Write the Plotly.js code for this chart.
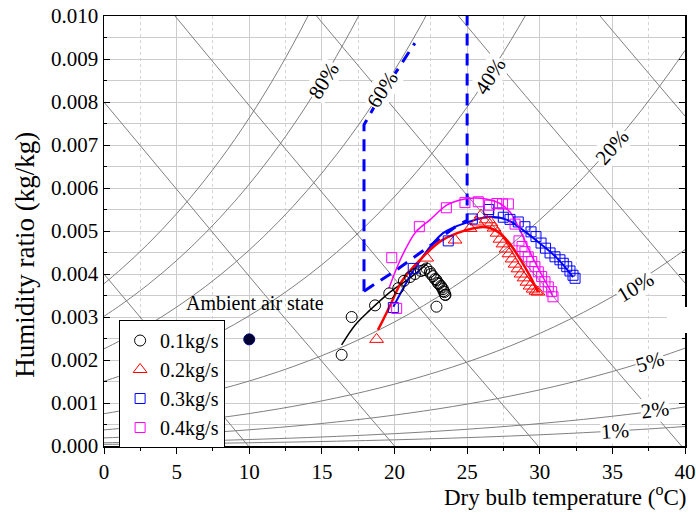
<!DOCTYPE html>
<html>
<head>
<meta charset="utf-8">
<script src="https://cdn.plot.ly/plotly-3.0.1.min.js"></script>
<style>html,body{margin:0;padding:0;background:#fff}#chart{width:696px;height:516px}</style>
</head>
<body>
<div id="chart"></div>
<script>
// ---- Psychrometric reference data ----
// saturation vapour pressure of water (kPa) at 0..40 C (steam tables)
const satTemps = [0,1,2,3,4,5,6,7,8,9,10,11,12,13,14,15,16,17,18,19,20,21,22,23,24,25,26,27,28,29,30,31,32,33,34,35,36,37,38,39,40];
const satPressure = [0.6112,0.6571,0.7060,0.7581,0.8135,0.8725,0.9353,1.0020,1.0729,1.1481,1.2280,1.3128,1.4027,1.4979,1.5988,1.7057,1.8188,1.9383,2.0647,2.1982,2.3392,2.4881,2.6452,2.8109,2.9856,3.1697,3.3637,3.5679,3.7828,4.0089,4.2467,4.4966,4.7592,5.0351,5.3247,5.6286,5.9475,6.2818,6.6324,6.9997,7.3844];
const rhLevels = [1,2,5,10,20,40,60,80,100];
const rhLabels = ['1%','2%','5%','10%','20%','40%','60%','80%'];
const enthalpyLevels = [10,20,30,40,50,60];
const atmPressure = 101.325;

// ---- Measured data ----
const ambientT = [10.0];
const ambientW = [0.00248];

const t01 = [16.36,17.05,18.66,19.64,20.26,20.65,21.07,21.41,21.82,22.03,22.20,22.44,22.51,22.65,22.79,22.89,22.99,23.06,23.20,23.24,23.34,23.37,23.44,23.48,23.51,22.89];
const w01 = [0.00212,0.00300,0.00327,0.00355,0.00367,0.00384,0.00393,0.00400,0.00407,0.00409,0.00413,0.00405,0.00400,0.00395,0.00388,0.00386,0.00379,0.00377,0.00372,0.00369,0.00365,0.00360,0.00358,0.00352,0.00351,0.00324];

const t02 = [18.77,22.22,24.17,25.20,25.68,25.96,26.30,26.64,26.85,27.06,27.26,27.47,27.68,27.88,28.09,28.30,28.50,28.71,28.92,29.12,29.33,29.54,29.74,29.88];
const w02 = [0.00248,0.00437,0.00479,0.00506,0.00521,0.00537,0.00526,0.00519,0.00507,0.00495,0.00481,0.00470,0.00458,0.00447,0.00435,0.00423,0.00412,0.00400,0.00391,0.00381,0.00372,0.00365,0.00360,0.00358];

const t03 = [19.92,21.29,23.70,25.36,26.49,27.15,27.49,27.95,28.52,28.98,29.40,29.74,30.09,30.40,30.71,31.05,31.39,31.62,31.86,32.08,32.29,32.43];
const w03 = [0.00322,0.00413,0.00477,0.00528,0.00550,0.00542,0.00532,0.00527,0.00521,0.00510,0.00498,0.00487,0.00472,0.00460,0.00449,0.00440,0.00433,0.00425,0.00417,0.00407,0.00397,0.00390];

const t04 = [20.15,19.81,21.71,23.57,24.85,25.77,26.54,27.04,27.44,27.84,28.30,28.57,28.78,28.98,29.21,29.45,29.67,29.90,30.13,30.36,30.59,30.82,30.91];
const w04 = [0.00320,0.00438,0.00510,0.00554,0.00566,0.00568,0.00560,0.00564,0.00563,0.00563,0.00516,0.00477,0.00464,0.00452,0.00440,0.00429,0.00417,0.00405,0.00394,0.00382,0.00370,0.00359,0.00347];

// fitted curves
const fitT01 = [16.36,17.28,18.31,19.69,21.07,22.31];
const fitW01 = [0.00235,0.00281,0.00316,0.00358,0.00391,0.00426];
const fitT02 = [18.86,19.21,19.69,20.52,21.76,23.20,24.92,25.89,26.57,27.26,27.95,28.64,29.33,29.88];
const fitW02 = [0.00270,0.00293,0.00326,0.00384,0.00433,0.00477,0.00502,0.00509,0.00507,0.00495,0.00470,0.00435,0.00395,0.00358];
const fitT03 = [19.92,20.72,21.55,23.34,25.20,26.57,27.75,28.85,30.02,31.19,32.29];
const fitW03 = [0.00324,0.00374,0.00421,0.00495,0.00522,0.00533,0.00526,0.00502,0.00471,0.00437,0.00393];
const fitT04 = [19.62,20.24,20.84,21.48,22.44,23.59,24.51,25.54,26.37,27.26,27.95,28.64,29.33,30.02,30.71,30.91];
const fitW04 = [0.00367,0.00421,0.00463,0.00498,0.00526,0.00560,0.00572,0.00577,0.00574,0.00564,0.00544,0.00502,0.00451,0.00405,0.00363,0.00347];

// dashed operating boundaries
const limAT = [17.9,17.9,19.0,20.2,21.4];
const limAW = [0.00360,0.00747,0.00812,0.00874,0.00937];
const limBT = [17.9,20.2,22.3,24.2,25.0,25.0];
const limBW = [0.00360,0.00411,0.00462,0.00510,0.00525,0.01030];

const seriesNames = ['0.1kg/s','0.2kg/s','0.3kg/s','0.4kg/s'];

// ---- build ----
const FONT = 'Liberation Serif, Times New Roman, serif';
const traces = [];

function wFromPw(pw){ return 0.622*pw/(atmPressure-pw); }

rhLevels.forEach(rh => {
  traces.push({
    x: satTemps, y: satPressure.map(p => wFromPw(rh/100*p)),
    mode: 'lines', line: {color: '#7f7f7f', width: 1, shape: 'spline'},
    hoverinfo: 'skip', showlegend: false
  });
});
enthalpyLevels.forEach(h => {
  traces.push({
    x: satTemps, y: satTemps.map(T => (h - 1.006*T)/(2501 + 1.86*T)),
    mode: 'lines', line: {color: '#7f7f7f', width: 1},
    hoverinfo: 'skip', showlegend: false
  });
});

// dashed boundaries
traces.push({x: limAT, y: limAW, mode: 'lines', line: {color: '#0000ff', width: 3, dash: '12px,8px'}, showlegend: false});
traces.push({x: limBT, y: limBW, mode: 'lines', line: {color: '#0000ff', width: 3, dash: '12px,8px'}, showlegend: false});

// fit lines
traces.push({x: fitT01, y: fitW01, mode: 'lines', line: {color: '#000000', width: 1.5, shape: 'spline'}, showlegend: false});
traces.push({x: fitT03, y: fitW03, mode: 'lines', line: {color: '#0000ff', width: 2, shape: 'spline'}, showlegend: false});
traces.push({x: fitT04, y: fitW04, mode: 'lines', line: {color: '#ff00ff', width: 1.5, shape: 'spline'}, showlegend: false});
traces.push({x: fitT02, y: fitW02, mode: 'lines', line: {color: '#ff0000', width: 2.5, shape: 'spline'}, showlegend: false});

// measured points
traces.push({x: t01, y: w01, name: seriesNames[0], mode: 'markers',
  marker: {symbol: 'circle-open', size: 11, color: '#000000', line: {width: 1}}});
traces.push({x: t02, y: w02, name: seriesNames[1], mode: 'markers',
  marker: {symbol: 'triangle-up-open', size: 12, color: '#ff0000', line: {width: 1}}});
traces.push({x: t03, y: w03, name: seriesNames[2], mode: 'markers',
  marker: {symbol: 'square-open', size: 10, color: '#0000ff', line: {width: 1}}});
traces.push({x: t04, y: w04, name: seriesNames[3], mode: 'markers',
  marker: {symbol: 'square-open', size: 10, color: '#ff00ff', line: {width: 1}}});

traces.push({x: ambientT, y: ambientW, mode: 'markers', showlegend: false,
  marker: {symbol: 'circle', size: 11, color: '#000033', line: {width: 1, color: '#000080'}}});

// RH labels
const labelPos = [[35.2,0.00034,-4],[37.9,0.00084,-8],[37.6,0.00195,-17],[36.6,0.00370,-31],[35.0,0.00695,-49],[26.6,0.00860,-57],[19.2,0.00830,-57],[15.1,0.00850,-58]];
const annotations = rhLabels.map((t,i) => ({
  x: labelPos[i][0], y: labelPos[i][1], xref: 'x', yref: 'y', text: t, showarrow: false,
  textangle: labelPos[i][2], font: {family: FONT, size: 21, color: '#000'}, bgcolor: '#ffffff', borderpad: 0
}));
annotations.push({x: 10.4, y: 0.00333, xref: 'x', yref: 'y', text: 'Ambient air state', showarrow: false,
  font: {family: FONT, size: 20, color: '#000'}});
annotations.push({x: 1.006, y: -0.114, xref: 'paper', yref: 'paper', xanchor: 'right', yanchor: 'middle',
  text: 'Dry bulb temperature (<sup>o</sup>C)', showarrow: false, font: {family: FONT, size: 23, color: '#000'}});
annotations.push({x: -0.136, y: 0.445, xref: 'paper', yref: 'paper', xanchor: 'center', yanchor: 'middle',
  text: 'Humidity ratio (kg/kg)', textangle: -90, showarrow: false, font: {family: FONT, size: 27, color: '#000'}});

const layout = {
  width: 696, height: 516,
  margin: {l: 104, r: 11, t: 16, b: 70},
  paper_bgcolor: '#ffffff', plot_bgcolor: '#ffffff',
  font: {family: FONT, size: 20, color: '#000'},
  showlegend: true,
  legend: {x: 0.026, y: 0.293, xanchor: 'left', yanchor: 'top', bgcolor: '#ffffff',
    bordercolor: '#000000', borderwidth: 1, font: {family: FONT, size: 20, color: '#000'}, traceorder: 'normal'},
  xaxis: {range: [0, 40], dtick: 5, tick0: 0, ticks: 'outside', ticklen: 6, tickwidth: 1, tickcolor: '#000',
    showline: true, linewidth: 1.5, linecolor: '#000', mirror: true, zeroline: false,
    showgrid: true, gridcolor: '#cccccc', gridwidth: 1,
    tickfont: {family: FONT, size: 21, color: '#000'},
    minor: {dtick: 2.5, ticks: 'outside', ticklen: 3, tickcolor: '#000', showgrid: true, gridcolor: '#d4d4d4', griddash: 'dot'}},
  yaxis: {range: [0, 0.010], dtick: 0.001, tick0: 0, tickformat: '.3f', ticks: 'inside', ticklen: 6, tickwidth: 1, tickcolor: '#000',
    showline: true, linewidth: 1.5, linecolor: '#000', mirror: 'ticks', zeroline: false,
    showgrid: true, gridcolor: '#cccccc', gridwidth: 1,
    tickfont: {family: FONT, size: 21, color: '#000'},
    minor: {dtick: 0.0005, ticks: 'inside', ticklen: 3, tickcolor: '#000', showgrid: true, gridcolor: '#cccccc'}},
  annotations: annotations,
  shapes: [{type: 'rect', xref: 'paper', yref: 'paper', x0: 0.969, x1: 1.03, y0: 0.263, y1: 0.323,
    fillcolor: '#ffffff', line: {width: 0}, layer: 'above'}]
};

Plotly.newPlot('chart', traces, layout, {displayModeBar: false, staticPlot: true});
</script>
</body>
</html>
